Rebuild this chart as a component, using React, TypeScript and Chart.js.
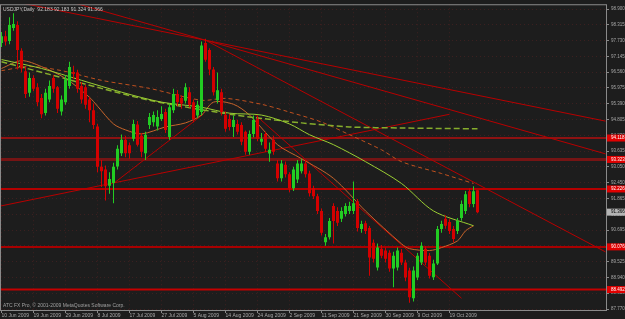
import React, { useEffect, useRef } from 'react';
import { Chart, registerables } from 'chart.js';

Chart.register(...registerables);

// ---------- data ----------
const dateLabels = ['10 Jun 2009', '19 Jun 2009', '29 Jun 2009', '8 Jul 2009', '17 Jul 2009', '27 Jul 2009', '5 Aug 2009', '14 Aug 2009', '24 Aug 2009', '2 Sep 2009', '11 Sep 2009', '21 Sep 2009', '30 Sep 2009', '9 Oct 2009', '19 Oct 2009'];
const dateLabelBars = [0, 8, 16, 24, 32, 40, 48, 56, 64, 72, 80, 88, 96, 104, 112];
const priceTicks = [98.9, 98.315, 97.73, 97.145, 96.56, 95.975, 95.39, 94.805, 94.22, 93.635, 93.05, 92.45, 91.865, 91.28, 90.695, 90.11, 89.525, 88.94, 88.355, 87.77];

const opens = [97.65, 97.90, 97.72, 98.20, 98.31, 97.36, 96.60, 95.80, 96.35, 96.00,
  95.60, 95.05, 95.55, 96.35, 96.00, 95.10, 95.45, 96.05, 96.57, 96.55,
  96.05, 96.00, 95.55, 95.15, 94.55, 93.05, 92.95, 92.35, 92.45, 93.06,
  93.55, 94.05, 93.85, 94.09, 94.62, 94.20, 93.55, 94.60, 94.70, 94.55,
  94.82, 95.08, 94.16, 95.15, 95.75, 95.60, 95.50, 95.82, 95.45, 94.95,
  95.08, 97.65, 97.39, 96.66, 95.52, 95.82, 94.97, 94.82, 94.53, 94.64,
  94.60, 94.35, 93.61, 94.27, 94.82, 93.98, 94.27, 93.54, 94.05, 93.17,
  92.62, 93.13, 92.77, 92.25, 92.58, 92.88, 93.17, 92.80, 92.25, 91.96,
  91.41, 90.25, 90.43, 91.59, 91.41, 91.12, 91.30, 91.41, 91.41, 91.77,
  90.74, 90.95, 90.78, 90.23, 89.31, 90.01, 89.94, 89.86, 89.27, 89.31,
  89.86, 89.50, 89.20, 88.17, 88.94, 89.50, 90.01, 89.75, 88.95, 89.46,
  90.74, 91.12, 91.00, 90.74, 90.67, 91.15, 91.41, 92.14, 91.67, 92.183];
const highs = [98.05, 98.10, 98.60, 98.75, 98.45, 97.45, 96.75, 96.55, 96.45, 96.15,
  95.75, 95.95, 96.25, 96.45, 96.05, 95.70, 96.45, 96.95, 96.80, 96.65,
  96.20, 96.10, 95.65, 95.40, 94.65, 93.30, 93.10, 92.85, 93.20, 93.85,
  94.25, 94.20, 93.95, 94.80, 94.75, 94.30, 94.35, 95.05, 95.10, 95.15,
  95.30, 95.20, 95.40, 95.95, 95.90, 95.70, 96.15, 96.00, 95.55, 95.50,
  97.70, 97.80, 97.45, 96.75, 96.55, 95.95, 95.10, 95.00, 94.95, 94.80,
  94.70, 94.40, 94.40, 94.95, 94.95, 94.30, 94.35, 93.95, 94.20, 93.30,
  93.30, 93.25, 92.85, 93.05, 93.30, 93.35, 93.30, 92.90, 92.35, 92.05,
  91.50, 90.55, 91.15, 91.70, 91.55, 91.55, 91.70, 91.75, 92.50, 91.85,
  91.05, 91.05, 90.85, 90.35, 90.20, 90.15, 90.05, 89.95, 89.90, 90.05,
  90.00, 89.60, 89.30, 89.35, 89.85, 90.25, 90.10, 89.85, 89.60, 90.85,
  91.05, 91.25, 91.10, 90.85, 91.15, 91.80, 92.15, 92.25, 92.33, 92.183];
const lows = [97.50, 97.55, 97.60, 98.10, 96.66, 96.55, 95.60, 95.65, 95.85, 95.30,
  94.85, 94.95, 95.45, 95.80, 95.05, 94.95, 95.35, 95.95, 96.30, 95.80,
  95.40, 95.20, 94.70, 94.45, 92.85, 92.30, 91.80, 92.05, 91.70, 92.95,
  93.45, 93.40, 93.35, 94.00, 93.80, 93.40, 93.30, 94.45, 94.55, 94.40,
  94.75, 94.30, 94.05, 95.05, 95.30, 95.20, 95.40, 95.25, 94.70, 94.85,
  94.95, 96.95, 96.45, 95.70, 95.40, 94.95, 94.35, 94.40, 94.16, 94.25,
  93.85, 93.50, 93.50, 94.15, 94.00, 93.85, 93.60, 93.24, 93.50, 92.50,
  92.50, 92.65, 92.10, 92.15, 92.45, 92.80, 92.65, 91.95, 91.85, 91.30,
  90.50, 90.12, 90.35, 90.20, 90.85, 91.00, 91.20, 91.30, 91.30, 90.65,
  90.60, 90.55, 89.00, 89.50, 89.20, 89.65, 89.50, 89.15, 88.58, 89.20,
  89.40, 88.80, 88.00, 88.05, 88.85, 89.40, 89.40, 88.90, 88.85, 89.40,
  90.60, 90.75, 90.55, 90.25, 90.55, 91.05, 91.30, 91.55, 91.55, 91.324];
const closes = [97.90, 97.70, 98.31, 98.35, 97.39, 96.70, 95.75, 96.35, 95.95, 95.45,
  95.00, 95.80, 96.05, 95.95, 95.20, 95.55, 96.30, 96.75, 96.50, 95.95,
  95.55, 95.35, 95.15, 94.60, 93.05, 92.88, 92.33, 92.60, 93.05, 93.72,
  94.05, 93.55, 93.55, 94.64, 93.87, 93.61, 94.24, 94.90, 94.97, 94.90,
  95.01, 94.42, 95.26, 95.75, 95.45, 95.40, 96.00, 95.35, 94.82, 95.35,
  97.55, 97.02, 96.66, 95.82, 95.89, 95.08, 94.46, 94.53, 94.79, 94.35,
  93.98, 93.61, 94.27, 94.79, 94.09, 94.09, 93.72, 93.68, 93.61, 92.62,
  93.17, 92.77, 92.25, 92.95, 93.17, 93.17, 92.77, 92.07, 91.96, 91.41,
  90.60, 90.43, 91.04, 91.04, 90.97, 91.41, 91.59, 91.59, 91.70, 90.78,
  90.93, 90.67, 89.68, 89.64, 90.05, 89.75, 89.64, 89.27, 89.75, 89.94,
  89.50, 88.94, 88.21, 89.20, 89.75, 90.12, 89.50, 89.00, 89.46, 90.74,
  90.93, 90.86, 90.67, 90.37, 91.04, 91.67, 92.03, 91.67, 92.14, 91.366];

// moving averages (bar index, price)
const maLimeBars = [0, 10, 20, 30, 40, 50, 57, 65, 72, 77, 83, 91, 100, 108, 118];
const maLimeValues = [97.03, 96.70, 96.26, 95.82, 95.45, 95.26, 95.04, 94.97, 94.64, 94.24, 93.87, 93.24, 92.43, 91.41, 90.86];
const maOliveBars = [0, 12, 25, 37, 52, 62, 75, 87, 100, 119];
const maOliveValues = [96.95, 96.48, 95.96, 95.52, 95.12, 94.90, 94.68, 94.53, 94.49, 94.46];
const maOrangeDashBars = [0, 7, 15, 25, 37, 50, 56, 65, 72, 80, 87, 95, 100, 110, 118];
const maOrangeDashValues = [96.62, 96.77, 96.62, 96.26, 95.96, 95.52, 95.59, 95.37, 95.08, 94.71, 94.24, 93.68, 93.24, 92.80, 92.43];
const maOrangeBars = [0, 5, 10, 16, 22, 24, 28, 31, 35, 41, 46, 50, 53, 58, 62, 69, 75, 83, 91, 100, 102, 107, 110, 114, 116, 118];
const maOrangeValues = [96.70, 96.99, 96.77, 96.33, 95.63, 95.30, 94.64, 94.42, 94.27, 94.53, 94.68, 94.97, 95.45, 95.37, 94.97, 93.87, 93.35, 92.62, 91.41, 90.19, 90.01, 89.94, 90.05, 90.30, 90.67, 90.86];

// trend lines
const trendStartBars = [0, 0, 51, 63.5, -1, 28];
const trendStartPrices = [99.28, 99.90, 97.75, 94.97, 91.57, 92.43];
const trendEndBars = [151, 151, 151, 115, 112, 50.5];
const trendEndPrices = [94.745, 93.53, 89.89, 88.17, 95.0, 95.01];

// horizontal levels
const levelPrices = [94.118, 93.323, 92.226, 90.076, 88.492];
const levelColors = ['#8e1212', '#761414', '#b40000', '#a80000', '#c40000'];
const levelWidths = [2, 3, 2, 2, 2];
const lastPrice = 91.366;
const titleText = 'USDJPY,Daily  92.183 92.183 91.324 91.366';
const copyrightText = 'ATC FX Pro, \u00A9 2001-2009 MetaQuotes Software Corp.';

const UP = '#22cc22';
const DOWN = '#d40000';
const BG = '#1d1d1d';
const FONT = 'Liberation Sans, Arial, sans-serif';

export default function App() {
  const ref = useRef<HTMLCanvasElement | null>(null);

  useEffect(() => {
    const canvas = ref.current;
    if (!canvas) return;
    const colors = opens.map((o, i) => (closes[i] >= o ? UP : DOWN));
    const pts = (bars: number[], vals: number[]) => bars.map((b, i) => ({ x: b, y: vals[i] }));

    const datasets: any[] = [
      {
        type: 'bar',
        data: opens.map((o, i) => ({ x: i, y: [o, closes[i]] })),
        backgroundColor: colors,
        barThickness: 3,
        grouped: false,
        borderWidth: 0,
        inflateAmount: 0,
      },
      {
        type: 'bar',
        data: lows.map((l, i) => ({ x: i, y: [l, highs[i]] })),
        backgroundColor: colors,
        barThickness: 1,
        grouped: false,
        borderWidth: 0,
        inflateAmount: 0,
      },
      { type: 'line', data: pts(maLimeBars, maLimeValues), borderColor: '#9acd32', borderWidth: 1, pointRadius: 0, tension: 0.3 },
      { type: 'line', data: pts(maOliveBars, maOliveValues), borderColor: '#86ad2c', borderWidth: 1.5, borderDash: [6, 3], pointRadius: 0, tension: 0.3 },
      { type: 'line', data: pts(maOrangeDashBars, maOrangeDashValues), borderColor: '#c0501e', borderWidth: 1, borderDash: [4, 3], pointRadius: 0, tension: 0.3 },
      { type: 'line', data: pts(maOrangeBars, maOrangeValues), borderColor: '#c8642a', borderWidth: 1, pointRadius: 0, tension: 0.3 },
    ];
    trendStartBars.forEach((b, i) => {
      datasets.push({
        type: 'line',
        data: [{ x: b, y: trendStartPrices[i] }, { x: trendEndBars[i], y: trendEndPrices[i] }],
        borderColor: '#b80000', borderWidth: 1, pointRadius: 0,
      });
    });
    levelPrices.forEach((p, i) => {
      datasets.push({
        type: 'line',
        data: [{ x: -1, y: p }, { x: 152, y: p }],
        borderColor: levelColors[i], borderWidth: levelWidths[i], pointRadius: 0,
      });
    });

    const bgPlugin = {
      id: 'bg',
      beforeDraw(chart: any) {
        const c = chart.ctx;
        c.save();
        c.fillStyle = BG;
        c.fillRect(0, 0, chart.width, chart.height);
        c.restore();
      },
    };

    const overlayPlugin = {
      id: 'overlay',
      afterDraw(chart: any) {
        const c = chart.ctx;
        const a = chart.chartArea;
        const ys = chart.scales.y;
        c.save();
        c.strokeStyle = '#8a8a8a';
        c.lineWidth = 1;
        c.strokeRect(a.left + 0.5, a.top + 0.5, a.right - a.left, a.bottom - a.top);
        c.font = '5px ' + FONT;
        c.textBaseline = 'middle';
        c.textAlign = 'left';
        c.fillStyle = '#c8c8c8';
        c.fillText(titleText, a.left + 3, a.top + 5);
        c.fillStyle = '#a0a0a0';
        c.fillText(copyrightText, a.left + 3, a.bottom - 4);
        c.font = '4.5px ' + FONT;
        levelPrices.forEach((p) => {
          const y = ys.getPixelForValue(p);
          c.fillStyle = '#e00000';
          c.fillRect(a.right + 1, y - 3.5, chart.width - a.right - 1, 7);
          c.fillStyle = '#ffffff';
          c.fillText(p.toFixed(3), a.right + 5, y);
        });
        const ly = ys.getPixelForValue(lastPrice);
        c.fillStyle = '#b4b4b4';
        c.fillRect(a.right + 1, ly - 3.5, chart.width - a.right - 1, 7);
        c.fillStyle = '#000000';
        c.fillText(lastPrice.toFixed(3), a.right + 5, ly);
        c.restore();
      },
    };

    const chart = new Chart(canvas, {
      type: 'bar',
      data: { datasets },
      options: {
        animation: false,
        responsive: false,
        maintainAspectRatio: false,
        layout: { padding: { left: 0, top: 1, right: 0, bottom: 0 }, autoPadding: false },
        plugins: { legend: { display: false }, tooltip: { enabled: false } },
        scales: {
          x: {
            type: 'linear',
            position: 'bottom',
            min: -0.375,
            max: 151.125,
            offset: false,
            afterFit: (s: any) => { s.height = 9; },
            afterBuildTicks: (s: any) => { s.ticks = dateLabelBars.map((v) => ({ value: v })); },
            grid: { offset: false, color: 'rgba(120,40,40,0.35)', tickColor: '#8a8a8a', tickLength: 3, lineWidth: 1 },
            border: { display: false, dash: [1, 3] },
            ticks: {
              autoSkip: false,
              maxRotation: 0,
              align: 'start',
              padding: 0,
              color: '#a8a8a8',
              font: { family: FONT, size: 5, lineHeight: 1 },
              callback: (v: any) => {
                const k = dateLabelBars.indexOf(Number(v));
                return k >= 0 ? dateLabels[k] : '';
              },
            },
          },
          y: {
            type: 'linear',
            position: 'right',
            min: 87.733,
            max: 99.084,
            beginAtZero: false,
            afterFit: (s: any) => { s.width = 19; },
            afterBuildTicks: (s: any) => { s.ticks = priceTicks.map((v) => ({ value: v })); },
            grid: { color: 'rgba(120,40,40,0.35)', tickColor: '#8a8a8a', tickLength: 3, lineWidth: 1 },
            border: { display: false, dash: [1, 3] },
            ticks: {
              autoSkip: false,
              padding: 2,
              color: '#a8a8a8',
              font: { family: FONT, size: 4.5, lineHeight: 1 },
              callback: (v: any) => Number(v).toFixed(3),
            },
          },
        },
      } as any,
      plugins: [bgPlugin, overlayPlugin],
    });
    return () => chart.destroy();
  }, []);

  return (
    <div style={{ position: 'fixed', left: 0, top: 0, width: 625, height: 319, background: BG }}>
      <canvas ref={ref} width={625} height={319} style={{ display: 'block', width: 625, height: 319 }} />
    </div>
  );
}
